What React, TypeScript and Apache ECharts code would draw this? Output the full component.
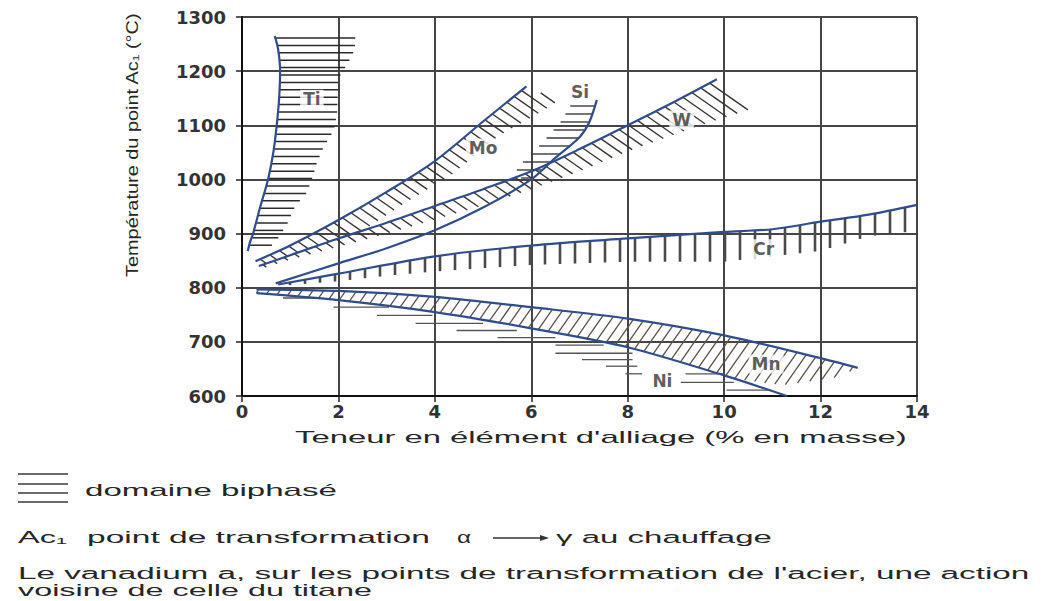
import { useEffect, useRef } from 'react';
import * as echarts from 'echarts';

type P = [number, number];

// ---------- axes ----------
const xTicks = [0, 2, 4, 6, 8, 10, 12, 14];
const yTicks = [600, 700, 800, 900, 1000, 1100, 1200, 1300];

// ---------- boundary curves (x: % mass, y: °C) ----------
const tiCurve: P[] = [[0.12, 868], [0.17, 885], [0.23, 900], [0.38, 950], [0.54, 1000], [0.65, 1050], [0.72, 1100], [0.77, 1150], [0.79, 1200], [0.75, 1240], [0.68, 1265]];
const moCurve: P[] = [[0.28, 849], [1, 878], [2, 925], [3, 977], [4, 1034], [5, 1107], [5.9, 1172]];
const wCurve: P[] = [[0.35, 840], [1, 860], [2, 891], [3, 920], [4, 951], [5, 982], [6, 1015], [7, 1056], [8, 1100], [9, 1145], [9.85, 1185]];
const siCurve: P[] = [[0.7, 808], [2, 845], [3, 873], [4, 906], [5, 948], [6, 1000], [6.5, 1040], [7, 1078], [7.2, 1105], [7.36, 1147]];
const crCurve: P[] = [[0.75, 806], [2, 826], [4, 858], [6, 878], [8, 891], [10, 903], [11, 908], [12, 922], [13, 935], [14, 953]];
const mnCurve: P[] = [[0.3, 797], [2, 794], [4, 783], [6, 764], [8, 743], [10, 712], [12, 670], [12.77, 652]];
const niCurve: P[] = [[0.3, 790], [2, 777], [4, 755], [6, 725], [8, 690], [10, 638], [11.3, 600]];

// ---------- hatched (two-phase) domains ----------
const tiHatchEdge: P[] = [[2.35, 1264], [2.34, 1240], [2.2, 1215], [2.0, 1187], [1.97, 1120], [1.9, 1090], [1.7, 1061], [1.55, 1030], [1.45, 1000], [1.34, 975], [1.1, 950], [0.95, 920], [0.78, 895], [0.5, 866]];
const moHatchEdge: P[] = [[6.55, 1145], [6.3, 1130], [5.35, 1082], [4.35, 1009], [3.35, 955], [2.5, 905], [2, 891], [1, 860], [0.35, 840]];
const wHatchEdge: P[] = [[10.65, 1133], [9.5, 1100], [8.5, 1068], [8, 1052], [7, 1015], [6, 982], [5, 952], [4, 926], [3, 900], [2, 876], [1, 852], [0.5, 838]];
const siHatch: P[] = [[6.0, 1000], [6.5, 1040], [7.0, 1078], [7.2, 1105], [7.36, 1147], [6.85, 1142], [6.6, 1105], [6.2, 1065], [5.8, 1030], [5.6, 1005]];
const crHatchEdge: P[] = [[14, 905], [13, 895], [12, 868], [11, 858], [10, 848], [8, 848], [6, 842], [4, 830], [3, 822], [2, 812], [0.9, 804]];
const mnHatchEdge: P[] = [[12.3, 634], [11.2, 620], [10.2, 632], [10, 638], [8, 690], [6, 725], [4, 755], [2, 777], [0.3, 790]];
// Ni: individual horizontal strokes [xStart, xEnd, y]
const niHatch: number[][] = [
  [0.85, 1.6, 781], [1.9, 3.05, 764], [2.8, 3.95, 749], [3.6, 5.0, 734], [4.45, 5.7, 721],
  [5.3, 6.5, 708], [6.5, 7.5, 694], [6.5, 8.1, 679], [7.05, 8.1, 667], [7.55, 8.2, 655],
  [7.95, 8.3, 641], [9.2, 10.0, 641], [9.1, 10.2, 625], [10.05, 10.9, 611],
];

// ---------- element labels ----------
const labelNames = ['Ti', 'Mo', 'Si', 'W', 'Cr', 'Mn', 'Ni'];
const labelX = [1.45, 5.0, 7.01, 9.12, 10.82, 10.87, 8.72];
const labelY = [1148, 1058, 1162, 1110, 872, 659, 628];

const BLUE = '#2f4d8c';
const TEXT = '#262626';
const SANS = '"Liberation Sans", Arial, sans-serif';

function hatch(poly: number[][], angleDeg: number, spacing: number, phase: number) {
  const a = (angleDeg * Math.PI) / 180;
  const c = Math.cos(a), s = Math.sin(a);
  const pts = poly.map(([x, y]) => [x * c + y * s, -x * s + y * c]);
  const vs = pts.map((p) => p[1]);
  const vmin = Math.min(...vs), vmax = Math.max(...vs);
  const segs: number[][] = [];
  for (let v = Math.ceil((vmin - phase) / spacing) * spacing + phase; v <= vmax; v += spacing) {
    const us: number[] = [];
    for (let i = 0; i < pts.length; i++) {
      const p = pts[i], q = pts[(i + 1) % pts.length];
      if ((p[1] <= v && q[1] > v) || (q[1] <= v && p[1] > v)) {
        const t = (v - p[1]) / (q[1] - p[1]);
        us.push(p[0] + t * (q[0] - p[0]));
      }
    }
    us.sort((m, n) => m - n);
    for (let k = 0; k + 1 < us.length; k += 2) {
      const u1 = us[k], u2 = us[k + 1];
      segs.push([u1 * c - v * s, u1 * s + v * c, u2 * c - v * s, u2 * s + v * c]);
    }
  }
  return segs;
}

function hatchSeries(name: string, region: P[], angle: number, spacing: number, width: number, color: string, phase = 0): any {
  return {
    type: 'custom',
    name,
    coordinateSystem: 'cartesian2d',
    silent: true,
    z: 2,
    data: region,
    renderItem: (params: any, api: any) => {
      if (params.dataIndex !== 0) return null;
      const poly = region.map((p) => api.coord(p));
      const segs = hatch(poly, angle, spacing, phase);
      return {
        type: 'group',
        children: segs.map((g) => ({
          type: 'line',
          shape: { x1: g[0], y1: g[1], x2: g[2], y2: g[3] },
          style: { stroke: color, lineWidth: width },
        })),
      };
    },
  };
}

function curve(name: string, pts: P[], smooth = 0.3): any {
  return {
    type: 'line',
    name,
    data: pts,
    smooth,
    symbol: 'none',
    showSymbol: false,
    silent: true,
    z: 3,
    lineStyle: { color: BLUE, width: 2.2 },
  };
}

let measureCtx: CanvasRenderingContext2D | null = null;
function textWidth(text: string, font: string) {
  if (!measureCtx) measureCtx = document.createElement('canvas').getContext('2d');
  if (!measureCtx) return text.length * 8;
  measureCtx.font = font;
  return measureCtx.measureText(text).width;
}

function fitText(text: string, x: number, y: number, targetW: number, size: number, rotation = 0): any {
  const w = textWidth(text, `${size}px ${SANS}`);
  return {
    type: 'text',
    x,
    y,
    rotation,
    scaleX: targetW / w,
    silent: true,
    style: {
      text,
      fontSize: size,
      fontFamily: SANS,
      fill: TEXT,
      align: 'left',
      verticalAlign: 'middle',
      textAlign: 'left',
      textVerticalAlign: 'middle',
    },
  };
}

function buildOption(): any {
  const xMin = xTicks[0], xMax = xTicks[xTicks.length - 1];
  const yMin = yTicks[0], yMax = yTicks[yTicks.length - 1];
  const gridLine = { show: true, lineStyle: { color: '#454545', width: 2 } };
  const axisText = {
    color: '#333',
    fontFamily: '"DejaVu Sans", sans-serif',
    fontSize: 18,
    fontWeight: 'bold',
    formatter: (v: number) => String(v),
  };

  const legendLines = [474, 484, 493, 502].map((yy) => ({
    type: 'line',
    silent: true,
    shape: { x1: 18, y1: yy, x2: 68, y2: yy },
    style: { stroke: '#3a3a3a', lineWidth: 1.5 },
  }));

  return {
    animation: false,
    backgroundColor: '#ffffff',
    grid: { left: 242, right: 128, top: 17, bottom: 205, containLabel: false, outerBoundsMode: 'none' },
    xAxis: {
      type: 'value',
      min: xMin,
      max: xMax,
      interval: xTicks[1] - xTicks[0],
      axisLine: { show: true, onZero: false, lineStyle: { color: '#111', width: 2 } },
      axisTick: { show: true, length: 6, lineStyle: { color: '#222', width: 1.5 } },
      axisLabel: { ...axisText, margin: 6 },
      splitLine: gridLine,
    },
    yAxis: {
      type: 'value',
      min: yMin,
      max: yMax,
      interval: yTicks[1] - yTicks[0],
      axisLine: { show: true, onZero: false, lineStyle: { color: '#111', width: 2 } },
      axisTick: { show: true, length: 6, lineStyle: { color: '#222', width: 1.5 } },
      axisLabel: { ...axisText, margin: 16 },
      splitLine: gridLine,
    },
    series: [
      hatchSeries('Ti hatch', [...tiCurve, ...tiHatchEdge], 0, 7.4, 1.5, '#2a2a2a', 1),
      hatchSeries('Mo hatch', [...moCurve, ...moHatchEdge], 35, 9, 1.4, '#3a3530', 0),
      hatchSeries('W hatch', [...wCurve, ...wHatchEdge], 35, 9, 1.4, '#3a3530', 3),
      hatchSeries('Si hatch', siHatch, 0, 8, 1.4, '#3a3a3a', 2),
      hatchSeries('Cr hatch', [...crCurve, ...crHatchEdge], 90, 15, 2.6, '#4a4a4a', 10),
      hatchSeries('Mn hatch', [...mnCurve, ...mnHatchEdge], -55, 9, 1.3, '#5a5246', 0),
      {
        type: 'custom',
        name: 'Ni hatch',
        coordinateSystem: 'cartesian2d',
        silent: true,
        z: 2,
        data: niHatch,
        encode: { x: [0, 1], y: 2 },
        renderItem: (params: any, api: any) => {
          const a = api.coord([api.value(0), api.value(2)]);
          const b = api.coord([api.value(1), api.value(2)]);
          return {
            type: 'line',
            shape: { x1: a[0], y1: a[1], x2: b[0], y2: b[1] },
            style: { stroke: '#555', lineWidth: 1.3 },
          };
        },
      },
      curve('Ti', tiCurve),
      curve('Mo', moCurve),
      curve('W', wCurve),
      curve('Si', siCurve),
      curve('Cr', crCurve),
      curve('Mn', mnCurve),
      curve('Ni', niCurve),
      {
        type: 'scatter',
        name: 'labels',
        silent: true,
        z: 6,
        symbolSize: 1,
        itemStyle: { color: 'rgba(0,0,0,0)' },
        data: labelNames.map((n, i) => [labelX[i], labelY[i], n]),
        label: {
          show: true,
          position: 'inside',
          formatter: (p: any) => p.data[2],
          fontFamily: '"DejaVu Sans", sans-serif',
          fontSize: 17,
          fontWeight: 'bold',
          color: '#333',
          backgroundColor: '#ffffff',
          padding: [1, 3],
        },
      },
    ],
    graphic: [
      fitText('Température du point Ac₁ (°C)', 133, 277, 265, 16, Math.PI / 2),
      fitText("Teneur en élément d'alliage (% en masse)", 295, 437, 612, 17),
      ...legendLines,
      fitText('domaine biphasé', 85, 490, 252, 17),
      fitText('Ac₁', 18, 537, 49, 17),
      fitText('point de transformation', 87, 537, 343, 17),
      fitText('α', 457, 537, 14, 17),
      {
        type: 'line',
        silent: true,
        shape: { x1: 493, y1: 538, x2: 542, y2: 538 },
        style: { stroke: '#333', lineWidth: 1.5 },
      },
      {
        type: 'polygon',
        silent: true,
        shape: { points: [[540, 535], [549, 538], [540, 541]] },
        style: { fill: '#333' },
      },
      fitText('γ au chauffage', 556, 537, 216, 17),
      fitText("Le vanadium a, sur les points de transformation de l'acier, une action", 18, 573, 1012, 16),
      fitText('voisine de celle du titane', 18, 590, 354, 16),
    ],
  };
}

export default function App() {
  const ref = useRef<HTMLDivElement>(null);
  useEffect(() => {
    document.body.style.margin = '0';
    if (!ref.current) return;
    const chart = echarts.init(ref.current, undefined, { renderer: 'svg' });
    chart.setOption(buildOption());
    return () => chart.dispose();
  }, []);
  return <div ref={ref} style={{ width: 1045, height: 601 }} />;
}
